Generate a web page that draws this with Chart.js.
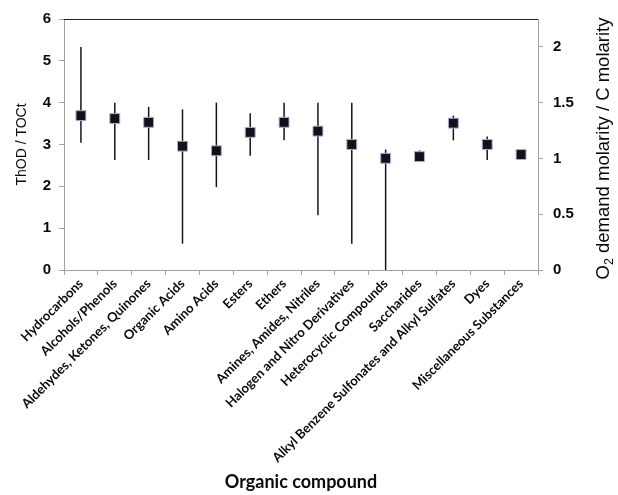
<!DOCTYPE html>
<html>
<head>
<meta charset="utf-8">
<script src="https://cdn.jsdelivr.net/npm/chart.js@4.4.1/dist/chart.umd.min.js"></script>
<style>
  html, body { margin: 0; padding: 0; background: #fff; }
</style>
</head>
<body>
<canvas id="chart" width="618" height="495"></canvas>
<script>
const categories = [
  'Hydrocarbons', 'Alcohols/Phenols', 'Aldehydes, Ketones, Quinones', 'Organic Acids',
  'Amino Acids', 'Esters', 'Ethers', 'Amines, Amides, Nitriles',
  'Halogen and Nitro Derivatives', 'Heterocyclic Compounds', 'Saccharides',
  'Alkyl Benzene Sulfonates and Alkyl Sulfates', 'Dyes', 'Miscellaneous Substances'
];
// ThOD / TOCt: mean, max and min of each group
const meanValues = [3.69, 3.62, 3.53, 2.96, 2.85, 3.29, 3.53, 3.32, 3.00, 2.67, 2.71, 3.51, 3.00, 2.76];
const maxValues  = [5.33, 4.00, 3.90, 3.84, 4.00, 3.75, 4.00, 4.00, 4.00, 2.88, 2.86, 3.69, 3.19, null];
const minValues  = [3.04, 2.63, 2.63, 0.63, 1.98, 2.73, 3.10, 1.31, 0.63, 0.00, 2.62, 3.10, 2.63, null];
const leftTicks = [0, 1, 2, 3, 4, 5, 6];
const rightTicks = [0, 0.5, 1, 1.5, 2];

const axisGray = '#a0a0a0';
const textColor = '#0a0a0a';

// vertical min-max lines behind the markers
const errorBars = {
  id: 'errorBars',
  beforeDatasetsDraw(chart) {
    const { ctx, scales: { x, y } } = chart;
    ctx.save();
    ctx.strokeStyle = '#151515';
    ctx.lineWidth = 1.5;
    categories.forEach((c, i) => {
      if (maxValues[i] == null) return;
      const px = x.getPixelForValue(i);
      ctx.beginPath();
      ctx.moveTo(px, y.getPixelForValue(maxValues[i]));
      ctx.lineTo(px, y.getPixelForValue(minValues[i]));
      ctx.stroke();
    });
    ctx.restore();
  }
};

// top frame line and the right axis title (reads bottom to top, with subscript)
const extras = {
  id: 'extras',
  afterDraw(chart) {
    const { ctx, chartArea: a } = chart;
    ctx.save();
    ctx.strokeStyle = '#222';
    ctx.lineWidth = 1;
    ctx.beginPath();
    ctx.moveTo(a.left, a.top + 0.5);
    ctx.lineTo(a.right, a.top + 0.5);
    ctx.stroke();

    const big = '18.5px "Liberation Sans", Arial, sans-serif';
    const small = '12.5px "Liberation Sans", Arial, sans-serif';
    const rest = ' demand molarity / C molarity';
    ctx.font = big;
    const wO = ctx.measureText('O').width;
    const wRest = ctx.measureText(rest).width;
    ctx.font = small;
    const w2 = ctx.measureText('2').width;
    const total = wO + w2 + wRest;
    ctx.translate(604, (a.top + a.bottom) / 2 + 4);
    ctx.rotate(-Math.PI / 2);
    ctx.fillStyle = textColor;
    ctx.textBaseline = 'middle';
    ctx.textAlign = 'left';
    let xx = -total / 2;
    ctx.font = big;
    ctx.fillText('O', xx, 0);
    xx += wO;
    ctx.font = small;
    ctx.fillText('2', xx, 6);
    xx += w2;
    ctx.font = big;
    ctx.fillText(rest, xx, 0);
    ctx.restore();
  }
};

new Chart(document.getElementById('chart'), {
  type: 'line',
  data: {
    labels: categories,
    datasets: [
      {
        data: meanValues,
        yAxisID: 'y',
        showLine: false,
        pointStyle: 'rect',
        pointRadius: 7,
        backgroundColor: '#121018',
        borderColor: '#b3a6d8',
        borderWidth: 1
      },
      {
        data: meanValues,
        yAxisID: 'y',
        showLine: false,
        pointStyle: 'crossRot',
        pointRadius: 6.5,
        borderColor: '#8468c8',
        borderWidth: 1.3
      }
    ]
  },
  options: {
    responsive: false,
    animation: false,
    events: [],
    layout: { padding: { top: 15, left: 0, right: 0, bottom: 0 } },
    plugins: {
      legend: { display: false },
      tooltip: { enabled: false }
    },
    scales: {
      x: {
        type: 'category',
        offset: true,
        grid: { offset: true, drawOnChartArea: false, color: axisGray, tickLength: 5 },
        border: { color: axisGray },
        ticks: {
          autoSkip: false,
          minRotation: 45,
          maxRotation: 45,
          padding: 1,
          color: textColor,
          font: { family: 'Lato', weight: 'bold', size: 13 }
        },
        title: {
          display: true,
          text: 'Organic compound',
          color: textColor,
          font: { family: 'Lato', weight: 'bold', size: 18 },
          padding: { top: 0, bottom: 2 }
        },
        afterFit: s => { s.height = 225; }
      },
      y: {
        position: 'left',
        min: 0,
        max: 6,
        afterBuildTicks: s => { s.ticks = leftTicks.map(v => ({ value: v })); },
        grid: { drawOnChartArea: false, color: axisGray, tickLength: 5 },
        border: { color: axisGray },
        ticks: {
          padding: 8,
          color: textColor,
          font: { family: 'Liberation Sans', weight: 'bold', size: 15 }
        },
        title: {
          display: true,
          text: 'ThOD / TOCt',
          color: textColor,
          font: { family: 'Liberation Sans', size: 14 },
          padding: { top: 14, bottom: 0 }
        },
        afterFit: s => { s.width = 64; }
      },
      y2: {
        position: 'right',
        min: 0,
        max: 2.25,
        afterBuildTicks: s => { s.ticks = rightTicks.map(v => ({ value: v })); },
        grid: { drawOnChartArea: false, color: axisGray, tickLength: 5 },
        border: { color: axisGray },
        ticks: {
          padding: 10,
          color: textColor,
          font: { family: 'Liberation Sans', weight: 'bold', size: 15 },
          callback: v => String(v)
        },
        afterFit: s => { s.width = 80; }
      }
    }
  },
  plugins: [errorBars, extras]
});
</script>
</body>
</html>
